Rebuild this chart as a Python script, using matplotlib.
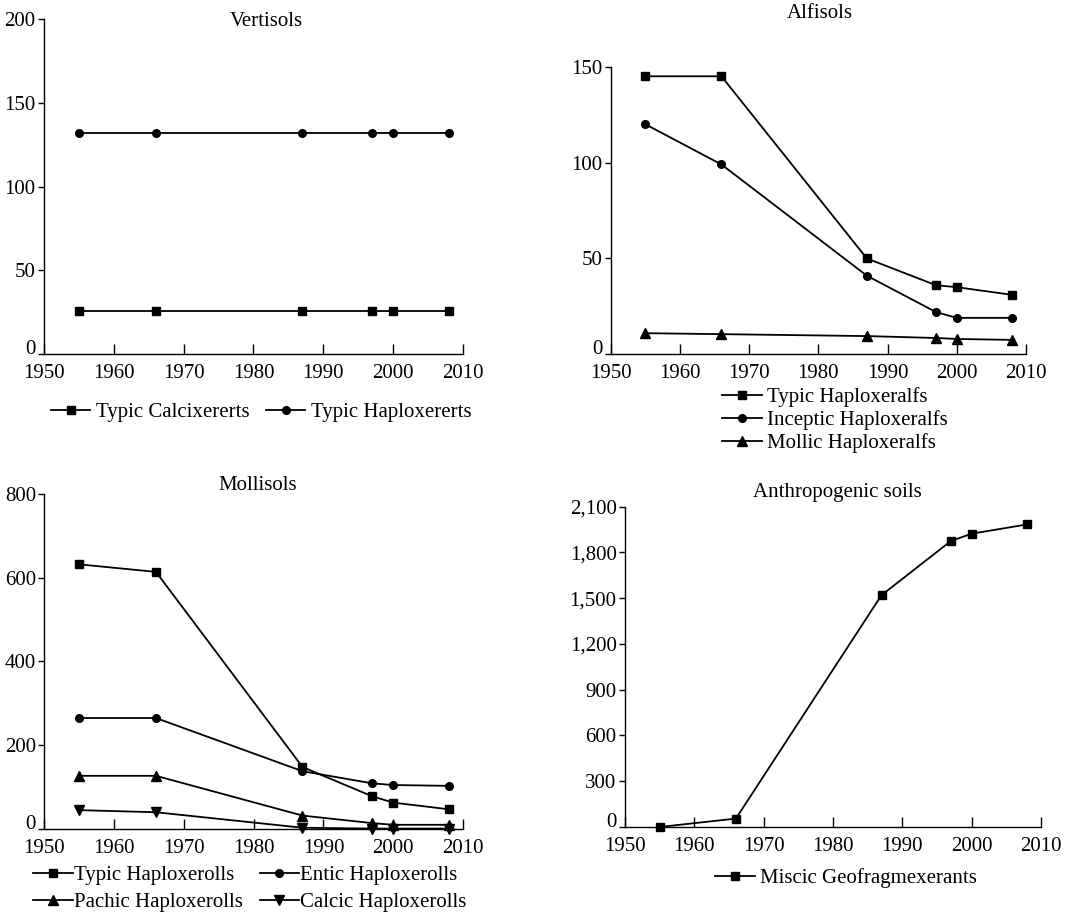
import matplotlib
matplotlib.use("Agg")
import matplotlib.pyplot as plt
import matplotlib.transforms as mtransforms
from matplotlib.ticker import FuncFormatter

plt.rcParams['font.family'] = ['Liberation Serif', 'DejaVu Serif']
FS = 15
plt.rcParams['font.size'] = FS

years = [1955, 1966, 1987, 1997, 2000, 2008]

# Vertisols
typic_calcixererts = [26, 26, 26, 26, 26, 26]
typic_haploxererts = [132, 132, 132, 132, 132, 132]

# Alfisols
typic_haploxeralfs = [145, 145, 50, 36, 35, 31]
inceptic_haploxeralfs = [120, 99, 41, 22, 19, 19]
mollic_haploxeralfs = [11, 10.5, 9.5, 8.5, 8, 7.5]

# Mollisols
typic_haploxerolls = [632, 614, 148, 78, 63, 47]
entic_haploxerolls = [265, 265, 138, 109, 105, 103]
pachic_haploxerolls = [127, 127, 32, 14, 10, 10]
calcic_haploxerolls = [45, 40, 3, 1, 1, 1]

# Anthropogenic soils
miscic_geofragmexerants = [0, 55, 1520, 1875, 1923, 1984]

fig = plt.figure(figsize=(10.66, 9.15), dpi=100)

def style(ax, ylim, yticks):
    ax.set_xlim(1950, 2010)
    ax.set_ylim(*ylim)
    ax.set_xticks(range(1950, 2011, 10))
    ax.set_yticks(yticks)
    for s in ['top', 'right']:
        ax.spines[s].set_visible(False)
    for s in ['left', 'bottom']:
        ax.spines[s].set_linewidth(1.0)
    ax.tick_params(axis='x', direction='in', length=7, width=1.0, pad=7, labelsize=FS)
    ax.tick_params(axis='y', direction='out', length=4, width=1.0, pad=2, labelsize=FS)

lk = dict(color='black', linewidth=1.3, clip_on=False)

def leg_kw(**over):
    d = dict(frameon=False, handlelength=1.9, handletextpad=0.25,
             columnspacing=0.8, fontsize=FS, borderpad=0, borderaxespad=0)
    d.update(over)
    return d

# Panel 1: Vertisols
ax1 = fig.add_axes([0.0413, 0.6128, 0.393, 0.3664])
l1, = ax1.plot(years, typic_calcixererts, marker='s', markersize=5.5, label='Typic Calcixererts', **lk)
l2, = ax1.plot(years, typic_haploxererts, marker='o', markersize=5.5, label='Typic Haploxererts', **lk)
style(ax1, (0, 200), [0, 50, 100, 150, 200])
fig.text(266/1066, 1 - 22/915, 'Vertisols', ha='center', va='center', fontsize=FS)
fig.legend(handles=[l1, l2], loc='center', bbox_to_anchor=(261/1066, 1 - 412/915), ncol=2, **leg_kw())

# Panel 2: Alfisols
ax2 = fig.add_axes([0.5729, 0.6128, 0.3896, 0.3143])
m1, = ax2.plot(years, typic_haploxeralfs, marker='s', markersize=5.5, label='Typic Haploxeralfs', **lk)
m2, = ax2.plot(years, inceptic_haploxeralfs, marker='o', markersize=5.5, label='Inceptic Haploxeralfs', **lk)
m3, = ax2.plot(years, mollic_haploxeralfs, marker='^', markersize=6.5, label='Mollic Haploxeralfs', **lk)
style(ax2, (0, 150), [0, 50, 100, 150])
fig.text(820/1066, 1 - 14/915, 'Alfisols', ha='center', va='center', fontsize=FS)
fig.legend(handles=[m1, m2, m3], loc='center', bbox_to_anchor=(835/1066, 1 - 420/915), ncol=1,
           **leg_kw(labelspacing=0.15))

# Panel 3: Mollisols
ax3 = fig.add_axes([0.0416, 0.0940, 0.3927, 0.3661])
n1, = ax3.plot(years, typic_haploxerolls, marker='s', markersize=5.5, label='Typic Haploxerolls', **lk)
n2, = ax3.plot(years, entic_haploxerolls, marker='o', markersize=5.5, label='Entic Haploxerolls', **lk)
n3, = ax3.plot(years, pachic_haploxerolls, marker='^', markersize=6.5, label='Pachic Haploxerolls', **lk)
n4, = ax3.plot(years, calcic_haploxerolls, marker='v', markersize=6.5, label='Calcic Haploxerolls', **lk)
style(ax3, (0, 800), [0, 200, 400, 600, 800])
fig.text(258/1066, 1 - 485/915, 'Mollisols', ha='center', va='center', fontsize=FS)
fig.legend(handles=[n1, n3, n2, n4], loc='center', bbox_to_anchor=(250/1066, 1 - 889/915), ncol=2,
           **leg_kw(labelspacing=0.35, handletextpad=0.05))

# Panel 4: Anthropogenic soils
ax4 = fig.add_axes([0.5863, 0.0962, 0.3902, 0.3500])
p1, = ax4.plot(years, miscic_geofragmexerants, marker='s', markersize=5.5, label='Miscic Geofragmexerants', **lk)
style(ax4, (0, 2100), list(range(0, 2101, 300)))
ax4.yaxis.set_major_formatter(FuncFormatter(lambda v, p: f"{int(v):,}"))
fig.text(837/1066, 1 - 492/915, 'Anthropogenic soils', ha='center', va='center', fontsize=FS)
fig.legend(handles=[p1], loc='center', bbox_to_anchor=(846/1066, 1 - 878/915), ncol=1, **leg_kw())

# nudge the y "0" labels up a little, as in the reference, so they clear the x labels
fig.canvas.draw()
for ax in (ax1, ax2, ax3, ax4):
    t0 = ax.yaxis.get_major_ticks()[0].label1
    t0.set_transform(t0.get_transform() + mtransforms.ScaledTranslation(0, 5/72, fig.dpi_scale_trans))

fig.savefig('out.png', dpi=100)
